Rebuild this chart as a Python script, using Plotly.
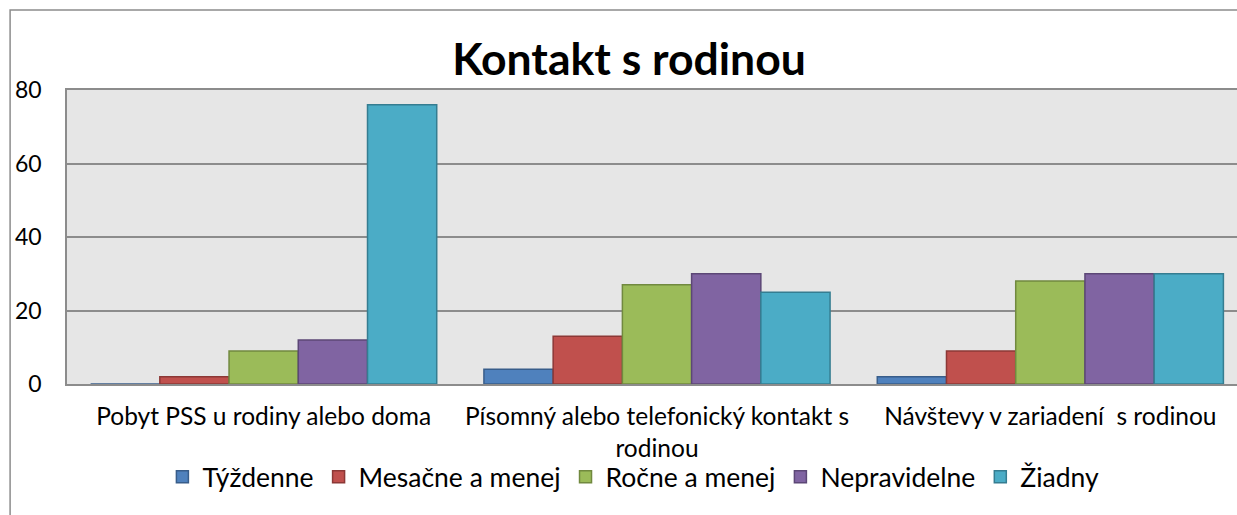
import plotly.graph_objects as go

categories = [
    "Pobyt PSS u rodiny alebo doma",
    "Písomný alebo telefonický kontakt s<br>rodinou",
    "Návštevy v zariadení  s rodinou",
]
series_names = ["Týždenne", "Mesačne a menej", "Ročne a menej", "Nepravidelne", "Žiadny"]
tyzdenne = [0, 4, 2]
mesacne = [2, 13, 9]
rocne = [9, 27, 28]
nepravidelne = [12, 30, 30]
ziadny = [76, 25, 30]

fills = ["#4f81bd", "#c0504d", "#9bbb59", "#8064a2", "#4bacc6"]
edges = ["#385d8a", "#8c3836", "#71893f", "#5c4776", "#357d91"]

font_fam = "Lato, 'Open Sans', sans-serif"

data = []
for name, vals, fc, ec in zip(series_names, [tyzdenne, mesacne, rocne, nepravidelne, ziadny], fills, edges):
    data.append(go.Bar(
        name=name,
        x=categories,
        y=vals,
        marker=dict(color=fc, line=dict(color=ec, width=1.5)),
    ))

fig = go.Figure(data=data)

# the original chart runs a little past the right edge of the window
fig.update_layout(
    width=1249, height=515,
    margin=dict(l=67, r=0, t=90, b=131),
    paper_bgcolor="white",
    plot_bgcolor="#e6e6e6",
    barmode="group",
    bargap=0.12,
    bargroupgap=0,
    font=dict(family=font_fam, size=23, color="black"),
    title=dict(text="<b>Kontakt s rodinou</b>", x=0.5036, xanchor="center",
               y=0.884, yanchor="middle", yref="container",
               font=dict(size=44.5, family=font_fam, color="black")),
    legend=dict(orientation="h", x=0.48, xanchor="center", y=-0.235, yanchor="top",
                font=dict(size=26.5), traceorder="normal", itemwidth=30,
                bgcolor="rgba(0,0,0,0)"),
    showlegend=True,
)

fig.update_yaxes(range=[0, 80], dtick=20, showgrid=True, gridcolor="#8c8c8c", gridwidth=1.5,
                 showline=True, linecolor="#8c8c8c", linewidth=1.5, mirror=True,
                 zeroline=False, ticks="", ticklabelstandoff=19, fixedrange=True,
                 tickfont=dict(size=23))
fig.update_xaxes(showline=True, linecolor="#8c8c8c", linewidth=1.5, mirror=True,
                 ticks="", ticklabelstandoff=10, fixedrange=True,
                 tickfont=dict(size=24.5))

# outer chart frame
fig.add_shape(type="rect", xref="paper", yref="paper",
              x0=(10 - 67) / 1182, x1=1.05, y0=-0.6, y1=(384 - 10) / 294,
              line=dict(color="#8c8c8c", width=1.5), fillcolor="rgba(0,0,0,0)", layer="below")

# drop the default page margin so the figure sits at the window origin
fig.write_html("out.html", config={"displayModeBar": False},
               post_script="document.body.style.margin='0';document.body.style.overflow='hidden';")
